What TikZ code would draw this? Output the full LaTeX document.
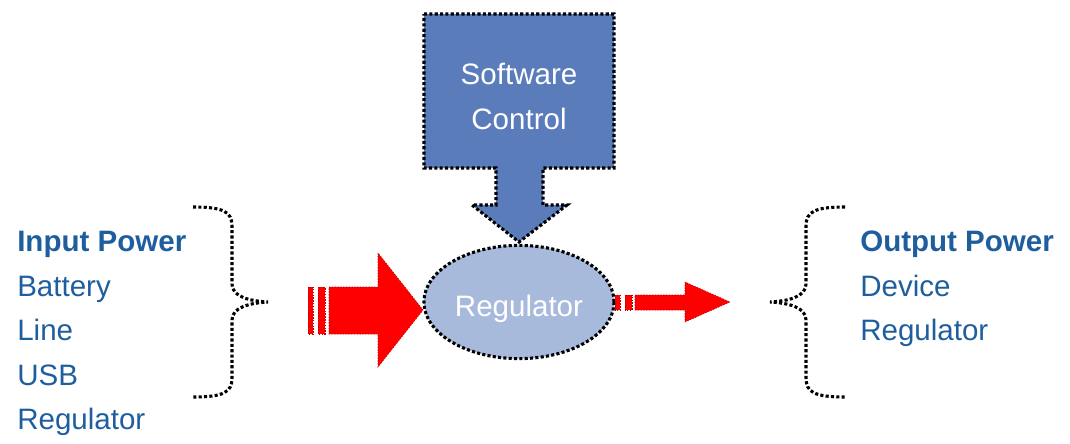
\documentclass[tikz,border=0pt]{standalone}
\usepackage{fontspec}
\setmainfont{Liberation Sans}
\usepackage{xcolor}
\usetikzlibrary{shapes.geometric,positioning}
\definecolor{swblue}{HTML}{5A7CBA}
\definecolor{regblue}{HTML}{A8BADB}
\definecolor{txtblue}{HTML}{1F5E9E}
\tikzset{
  lbl/.style={font=\fontsize{21}{25}\selectfont, text=txtblue, inner sep=0pt, anchor=base west},
  hdr/.style={lbl, font=\fontsize{21}{25}\selectfont\bfseries},
  wlbl/.style={font=\fontsize{21}{25}\selectfont, text=white, inner sep=0pt, anchor=base},
  dotline/.style={draw=black, line width=2.2pt, dash pattern=on 2.2pt off 1.6pt},
  regnode/.style={ellipse, dotline, fill=regblue, minimum width=4.75cm,
                  minimum height=2.83cm, inner sep=0pt},
  redarr/.style={fill=red, draw=red!75!black, line width=0.4pt, dash pattern=on 1pt off 1pt}
}

\begin{document}
\begin{tikzpicture}[x=0.025cm, y=-0.025cm]
  \useasboundingbox (0,0) rectangle (1070,443);

  % software control block with its down arrow
  \filldraw[fill=swblue, dotline] (424,14) -- (614,14) -- (614,168) -- (543,168) -- (543,205)
    -- (567,205) -- (519,242) -- (472,205) -- (496,205) -- (496,168) -- (424,168) -- cycle;
  \node[wlbl] (sw) at (519,84) {Software};
  \node[wlbl] (ctl) at (519,129) {Control};

  % regulator
  \node[regnode] (reg) at (519,302) {};
  \node[wlbl] (regtxt) at (519,316) {Regulator};

  % input arrow
  \fill[redarr] (308,287) rectangle (313,334);
  \fill[redarr] (318,287) rectangle (325,334);
  \filldraw[redarr] (329,287) -- (378,287) -- (378,253) -- (423,310) -- (378,367)
    -- (378,334) -- (329,334) -- cycle;

  % output arrow
  \fill[redarr] (615,295) rectangle (620,310);
  \fill[redarr] (625,295) rectangle (632,310);
  \filldraw[redarr] (635,295) -- (685,295) -- (685,282) -- (730,302) -- (685,322)
    -- (685,310) -- (635,310) -- cycle;

  % braces
  \draw[dotline] (193,207) .. controls (224,207) and (232,212) .. (232,226) -- (232,284)
    .. controls (232,297) and (250,301) .. (268,302)
    .. controls (250,303) and (232,307) .. (232,320) -- (232,378)
    .. controls (232,392) and (224,397) .. (193,397);
  \draw[dotline] (845,207) .. controls (814,207) and (806,212) .. (806,226) -- (806,284)
    .. controls (806,297) and (788,301) .. (770,302)
    .. controls (788,303) and (806,307) .. (806,320) -- (806,378)
    .. controls (806,392) and (814,397) .. (845,397);

  % input list
  \node[hdr] (inp) at (17,251) {Input Power};
  \node[lbl] (bat) at (17,296) {Battery};
  \node[lbl] (line) at (17,340) {Line};
  \node[lbl] (usb) at (17,385) {USB};
  \node[lbl] (ireg) at (17,429) {Regulator};

  % output list
  \node[hdr] (outp) at (860,251) {Output Power};
  \node[lbl] (dev) at (860,296) {Device};
  \node[lbl] (oreg) at (860,340) {Regulator};
\end{tikzpicture}
\end{document}
